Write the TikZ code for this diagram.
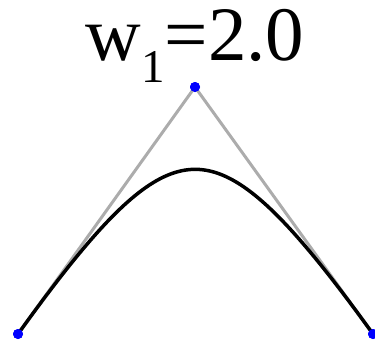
\documentclass[tikz,border=0pt]{standalone}
\usepackage{fontspec}
\setmainfont{Liberation Serif}

\begin{document}
\begin{tikzpicture}[x=1pt,y=-1pt,
  ctrl/.style={circle,fill=blue,inner sep=0pt,minimum size=10pt},
  hull/.style={gray!65,line width=3pt},
  curve/.style={black,line width=3.5pt}]
  \useasboundingbox (0,0) rectangle (375,346);
  \node[ctrl] (p0) at (18,334) {};
  \node[ctrl] (p1) at (195,87) {};
  \node[ctrl] (p2) at (373,334) {};
  \draw[hull] (p0.center) -- (p1.center) -- (p2.center);
  % rational quadratic with middle weight 2
  \draw[curve] plot[domain=0:1,samples=80,variable=\t]
    ({((1-\t)^2*18+4*\t*(1-\t)*195+\t^2*373)/((1-\t)^2+4*\t*(1-\t)+\t^2)},
     {((1-\t)^2*334+4*\t*(1-\t)*87+\t^2*334)/((1-\t)^2+4*\t*(1-\t)+\t^2)});
  \node[ctrl] at (p0) {};
  \node[ctrl] at (p1) {};
  \node[ctrl] at (p2) {};
  \node[anchor=base,inner sep=0pt,font=\fontsize{77}{80}\selectfont] (title) at (195,60)
    {w\raisebox{-22pt}{\fontsize{47}{47}\selectfont 1}=2.0};
\end{tikzpicture}
\end{document}
